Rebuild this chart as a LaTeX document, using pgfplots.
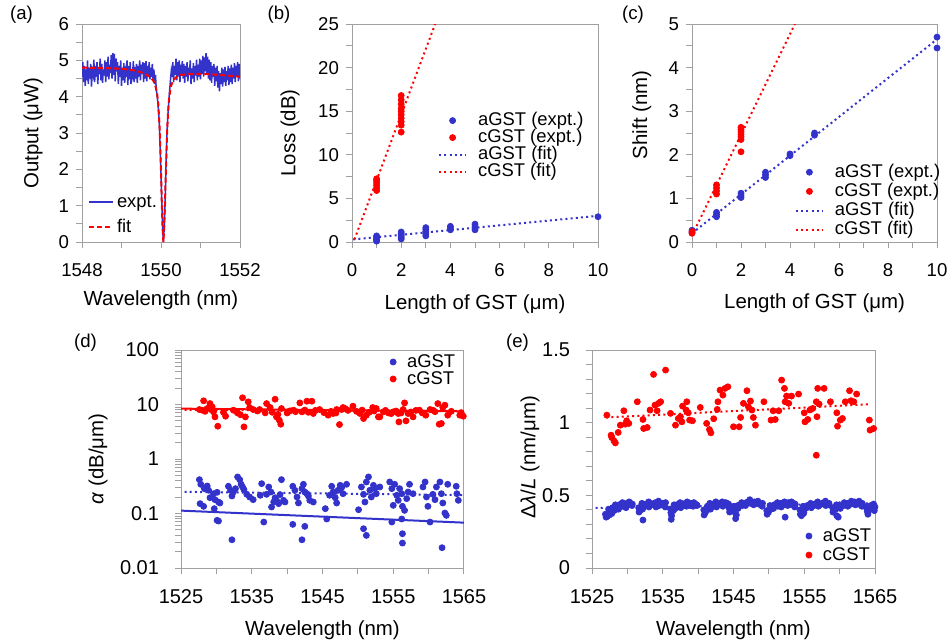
\documentclass[border=0pt]{standalone}
\usepackage{pgfplots}
\pgfplotsset{compat=1.18}
\usepackage{fontspec}
\setmainfont{Liberation Sans}
\definecolor{myblue}{RGB}{51,51,204}
\definecolor{myred}{RGB}{255,0,0}
\definecolor{framegray}{RGB}{160,160,160}
\pgfplotsset{
 panel/.style={
  scale only axis, anchor=south west,
  axis line style={framegray, line width=0.5pt},
  tick style={framegray, line width=0.5pt},
  tick align=outside, tick pos=left,
  major tick length=3pt, minor tick length=3pt,
  tick label style={font=\fontsize{9.3}{10}\selectfont, text=black},
  xticklabel style={yshift=-4.3pt},
  label style={font=\fontsize{10.2}{11}\selectfont},
  /pgf/number format/assume math mode=true,
  /pgf/number format/set thousands separator={},
  legend cell align=left,
  legend style={draw=none, fill=none, font=\fontsize{9.2}{10}\selectfont, inner sep=0pt, outer sep=0pt,
    nodes={inner sep=0pt, text height=6.8pt, text depth=1.7pt},
    /tikz/every odd column/.append style={column sep=5.5pt}},
 },
 bdot/.style={only marks, mark=*, mark size=1.5pt, color=myblue},
 rdot/.style={only marks, mark=*, mark size=1.5pt, color=myred},
 bfit/.style={myblue, line width=1pt, dash pattern=on 1pt off 1.6pt, no marks},
 rfit/.style={myred, line width=1pt, dash pattern=on 1pt off 1.6pt, no marks},
 wideleg/.style={legend image code/.code={\draw[mark repeat=2,mark phase=2,##1] plot coordinates {(0pt,0pt)(6.75pt,0pt)(13.5pt,0pt)};}},
 dotleg/.style={legend image code/.code={\draw[##1] plot coordinates {(1.5pt,0pt)};}},
}
\begin{document}
\begin{tikzpicture}
\path[use as bounding box] (0,0) rectangle (475.5pt,-319.5pt);
% ---------------- (a)
\begin{axis}[panel, at={(41pt,-121pt)}, width=79pt, height=109pt,
  xmin=1548, xmax=1552, ymin=0, ymax=6,
  xtick={1548,1550,1552}, minor x tick num=1,
  ytick={0,1,2,3,4,5,6}, minor y tick num=1,
  xlabel={Wavelength (nm)}, ylabel={Output (μW)},
  xlabel style={at={(axis description cs:0.5,-0.266)}, anchor=center},
  ylabel style={at={(axis description cs:-0.31,0.5)}, anchor=center},
  legend image code/.code={\draw[#1] plot coordinates {(0pt,0pt)(12pt,0pt)};},
  legend style={at={(0.038,0.126)}, anchor=west, row sep=4pt,
    /tikz/every odd column/.append style={column sep=1.5pt}},
  ]
\addplot[myblue, line width=0.75pt] coordinates {
(1548.00,4.55)(1548.02,4.95)(1548.04,4.40)(1548.06,4.85)(1548.08,4.30)(1548.10,4.75)(1548.12,4.45)(1548.14,5.00)(1548.16,4.35)(1548.18,4.80)
(1548.20,4.50)(1548.22,4.90)(1548.24,4.28)(1548.26,4.70)(1548.28,4.60)(1548.30,5.02)(1548.32,4.40)(1548.34,4.85)(1548.36,4.55)(1548.38,4.95)
(1548.40,4.35)(1548.42,4.80)(1548.44,4.62)(1548.46,5.05)(1548.48,4.45)(1548.50,4.90)(1548.52,4.38)(1548.54,4.75)(1548.56,4.58)(1548.58,5.00)
(1548.60,4.40)(1548.62,4.95)(1548.64,4.55)(1548.66,5.10)(1548.68,4.48)(1548.70,4.88)(1548.72,4.65)(1548.74,5.15)(1548.76,4.50)(1548.78,5.20)
(1548.80,4.60)(1548.82,5.18)(1548.84,4.42)(1548.86,5.05)(1548.88,4.70)(1548.90,4.95)(1548.92,4.35)(1548.94,4.85)(1548.96,4.55)(1548.98,5.00)
(1549.00,4.30)(1549.02,4.80)(1549.04,4.45)(1549.06,4.92)(1549.08,4.38)(1549.10,4.70)(1549.12,4.55)(1549.14,5.00)(1549.16,4.32)(1549.18,4.85)
(1549.20,4.48)(1549.22,4.95)(1549.24,4.35)(1549.26,4.75)(1549.28,4.60)(1549.30,4.98)(1549.32,4.40)(1549.34,4.82)(1549.36,4.50)(1549.38,4.90)
(1549.40,4.38)(1549.42,4.85)(1549.44,4.55)(1549.46,5.00)(1549.48,4.45)(1549.50,4.88)(1549.52,4.62)(1549.54,4.95)(1549.56,4.40)(1549.58,4.92)
(1549.60,4.50)(1549.62,4.98)(1549.64,4.42)(1549.66,4.85)(1549.68,4.60)(1549.70,4.95)(1549.72,4.48)(1549.74,4.80)(1549.76,4.55)(1549.78,4.90)
(1549.80,4.45)(1549.82,4.75)(1549.84,4.35)(1549.86,4.60)(1549.88,4.20)
(1549.90,4.05)(1549.92,3.85)(1549.94,3.55)(1549.96,3.20)(1549.98,2.60)(1550.00,1.90)(1550.02,1.10)(1550.04,0.40)(1550.06,0.00)
(1550.08,0.35)(1550.10,1.00)(1550.12,1.80)(1550.14,2.60)(1550.16,3.20)(1550.18,3.60)(1550.20,3.90)(1550.22,4.20)
(1550.24,4.45)(1550.26,4.70)(1550.28,4.55)(1550.30,4.95)(1550.32,4.40)(1550.34,4.85)(1550.36,4.60)(1550.38,5.05)
(1550.40,4.45)(1550.42,4.95)(1550.44,4.55)(1550.46,5.00)(1550.48,4.40)(1550.50,4.88)(1550.52,4.62)(1550.54,4.98)(1550.56,4.50)(1550.58,4.90)
(1550.60,4.38)(1550.62,4.85)(1550.64,4.55)(1550.66,4.95)(1550.68,4.42)(1550.70,4.80)(1550.72,4.60)(1550.74,5.00)(1550.76,4.35)(1550.78,4.78)
(1550.80,4.50)(1550.82,4.92)(1550.84,4.40)(1550.86,4.85)(1550.88,4.58)(1550.90,5.02)(1550.92,4.45)(1550.94,4.88)(1550.96,4.55)(1550.98,5.05)
(1551.00,4.48)(1551.02,5.00)(1551.04,4.62)(1551.06,5.12)(1551.08,4.55)(1551.10,5.08)(1551.12,4.70)(1551.14,5.20)(1551.16,4.60)(1551.18,5.10)
(1551.20,4.50)(1551.22,5.02)(1551.24,4.45)(1551.26,4.95)(1551.28,4.38)(1551.30,4.85)(1551.32,4.55)(1551.34,4.90)(1551.36,4.30)(1551.38,4.80)
(1551.40,4.42)(1551.42,4.85)(1551.44,4.25)(1551.46,4.70)(1551.48,4.15)(1551.50,4.65)(1551.52,4.35)(1551.54,4.80)(1551.56,4.28)(1551.58,4.75)
(1551.60,4.40)(1551.62,4.82)(1551.64,4.30)(1551.66,4.70)(1551.68,4.45)(1551.70,4.85)(1551.72,4.32)(1551.74,4.78)(1551.76,4.40)(1551.78,4.88)
(1551.80,4.35)(1551.82,4.80)(1551.84,4.50)(1551.86,4.92)(1551.88,4.40)(1551.90,4.85)(1551.92,4.55)(1551.94,4.95)(1551.96,4.42)(1551.98,4.90)
(1552.00,4.50)};
\addlegendentry{expt.}
\addplot[myred, line width=1pt, dash pattern=on 2.5pt off 1.5pt] coordinates {
(1548.0,4.80)(1548.5,4.79)(1549.0,4.77)(1549.3,4.73)(1549.5,4.67)(1549.6,4.62)(1549.7,4.56)(1549.8,4.45)(1549.85,4.33)(1549.9,4.10)
(1549.93,3.82)(1549.96,3.25)(1549.98,2.65)(1550.00,1.90)(1550.02,1.10)(1550.04,0.40)(1550.06,0.00)(1550.08,0.35)(1550.10,1.00)
(1550.12,1.80)(1550.14,2.55)(1550.16,3.15)(1550.18,3.60)(1550.21,4.00)(1550.25,4.28)(1550.3,4.43)(1550.4,4.55)(1550.5,4.60)
(1550.7,4.62)(1551.0,4.63)(1551.5,4.60)(1552.0,4.55)};
\addlegendentry{fit}
\end{axis}
% ---------------- (b)
\begin{axis}[panel, wideleg, at={(176pt,-121pt)}, width=123pt, height=109pt,
  xmin=0, xmax=10, ymin=0, ymax=25,
  xtick={0,2,...,10}, minor x tick num=1,
  ytick={0,5,...,25}, minor y tick num=1,
  xlabel={Length of GST (μm)}, ylabel={Loss (dB)},
  xlabel style={at={(axis description cs:0.5,-0.285)}, anchor=center},
  ylabel style={at={(axis description cs:-0.252,0.5)}, anchor=center},
  legend style={at={(0.35,0.44)}, anchor=west, row sep=0pt},
  ]
\addplot[bdot] coordinates {(1,0.1)(1,0.25)(1,0.4)(1,0.55)(1,0.7)(2,0.35)(2,0.55)(2,0.75)(2,0.95)(2,1.15)
 (3,0.7)(3,0.95)(3,1.2)(3,1.45)(3,1.65)(4,1.4)(4,1.6)(4,1.8)(5,1.4)(5,1.6)(5,1.8)(5,2.05)(10,2.9)};
\addlegendentry{aGST (expt.)}
\addplot[rdot] coordinates {(1,5.9)(1,6.2)(1,6.5)(1,6.8)(1,7.05)(1,7.25)(2,12.6)(2,13.4)(2,13.8)(2,14.2)(2,14.6)
 (2,15.0)(2,15.3)(2,15.8)(2,16.3)(2,16.8)};
\addlegendentry{cGST (expt.)}
\addplot[bfit] coordinates {(0.05,0.3)(10,3.0)};
\addlegendentry{aGST (fit)}
\addplot[rfit] coordinates {(0.1,0.3)(3.38,25)};
\addlegendentry{cGST (fit)}
\end{axis}
% ---------------- (c)
\begin{axis}[panel, wideleg, at={(346pt,-121pt)}, width=122.5pt, height=109pt,
  xmin=0, xmax=10, ymin=0, ymax=5,
  xtick={0,2,...,10}, minor x tick num=1,
  ytick={0,1,...,5}, minor y tick num=1,
  xlabel={Length of GST (μm)}, ylabel={Shift (nm)},
  xlabel style={at={(axis description cs:0.5,-0.28)}, anchor=center},
  ylabel style={at={(axis description cs:-0.205,0.583)}, anchor=center},
  legend style={at={(0.42,0.188)}, anchor=west, row sep=1.1pt},
  ]
\addplot[bdot] coordinates {(0,0.22)(0,0.27)(1,0.58)(1,0.63)(1,0.68)(2,1.02)(2,1.07)(2,1.12)(3,1.48)(3,1.54)(3,1.6)
 (4,1.98)(4,2.02)(5,2.45)(5,2.5)(10,4.45)(10,4.7)};
\addlegendentry{aGST (expt.)}
\addplot[rdot] coordinates {(0,0.2)(0,0.24)(1,1.1)(1,1.17)(1,1.24)(1,1.31)(2,2.07)(2,2.35)(2,2.41)(2,2.47)(2,2.53)(2,2.58)(2,2.63)};
\addlegendentry{cGST (expt.)}
\addplot[bfit] coordinates {(0,0.2)(10,4.65)};
\addlegendentry{aGST (fit)}
\addplot[rfit] coordinates {(0,0.15)(4.2,5.0)};
\addlegendentry{cGST (fit)}
\end{axis}
% ---------------- (d)
\begin{axis}[panel, dotleg, at={(90.5pt,-284pt)}, width=141.5pt, height=109pt,
  ymode=log, xmin=1525, xmax=1565, ymin=0.01, ymax=100,
  xtick={1525,1535,...,1565}, minor x tick num=1,
  ytick={0.01,0.1,1,10,100}, yticklabels={0.01,0.1,1,10,100},
  tick label style={font=\fontsize{10}{11}\selectfont},
  yticklabel style={xshift=-4.5pt},
  xlabel={Wavelength (nm)}, ylabel={\textit{α} (dB/μm)},
  xlabel style={at={(axis description cs:0.5,-0.284)}, anchor=center},
  ylabel style={at={(axis description cs:-0.293,0.5)}, anchor=center},
  legend style={at={(0.739,0.906)}, anchor=west, row sep=0pt},
  ]
\addplot[bdot] coordinates {
(1527.6,0.418)(1527.8,0.3436)(1528.3,0.286)(1528.7,0.320)(1528.9,0.267)(1529.1,0.195)(1529.6,0.231)(1529.8,0.1796)(1530.1,0.245)(1530.3,0.1626)
(1530.5,0.156)(1527.7,0.1517)(1528.2,0.1355)(1529.7,0.1227)(1530.1,0.0749)(1530.3,0.0728)(1531.7,0.316)(1532.0,0.267)(1532.2,0.210)(1532.4,0.248)
(1532.7,0.286)(1533.0,0.469)(1533.3,0.418)(1533.5,0.3436)(1533.7,0.307)(1533.9,0.274)(1534.3,0.225)(1534.7,0.201)(1535.2,0.1796)(1532.2,0.0330)
(1536.2,0.216)(1536.4,0.353)(1536.7,0.0698)(1537.1,0.225)(1537.4,0.307)(1537.7,0.248)(1537.8,0.1316)(1538.1,0.1626)(1538.3,0.195)(1538.5,0.1746)
(1538.8,0.1517)(1539.0,0.222)(1539.2,0.418)(1539.5,0.1746)(1539.7,0.1626)(1540.8,0.316)(1541.1,0.267)(1541.4,0.201)(1541.6,0.156)(1542.1,0.286)
(1542.3,0.3436)(1542.5,0.248)(1542.8,0.231)(1543.0,0.210)(1543.2,0.1746)(1543.7,0.1626)(1540.8,0.0632)(1542.5,0.0581)(1542.1,0.0330)(1545.4,0.1227)
(1545.6,0.0793)(1546.0,0.216)(1546.3,0.316)(1546.5,0.248)(1546.8,0.195)(1547.0,0.156)(1547.2,0.267)(1547.5,0.329)(1547.7,0.298)(1547.9,0.231)
(1548.4,0.3436)(1550.1,0.1175)(1550.5,0.307)(1550.8,0.225)(1551.0,0.1626)(1551.2,0.379)(1551.5,0.469)(1551.7,0.267)(1551.9,0.201)(1552.2,0.329)
(1552.4,0.286)(1552.6,0.231)(1553.1,0.307)(1550.8,0.0526)(1551.2,0.0397)(1554.5,0.379)(1554.8,0.286)(1555.0,0.1413)(1555.2,0.3436)(1555.5,0.216)
(1555.7,0.1746)(1555.9,0.286)(1556.2,0.231)(1556.3,0.1355)(1556.6,0.1143)(1556.9,0.1875)(1557.1,0.248)(1557.3,0.3436)(1557.8,0.231)(1554.8,0.0698)
(1556.2,0.0793)(1556.3,0.0426)(1556.3,0.0287)(1559.2,0.307)(1559.5,0.379)(1559.7,0.201)(1559.9,0.1355)(1560.2,0.0698)(1560.6,0.225)(1560.9,0.1796)
(1561.1,0.307)(1561.6,0.379)(1561.8,0.231)(1562.0,0.156)(1562.3,0.1021)(1562.5,0.0925)(1562.7,0.3436)(1561.9,0.0236)(1563.9,0.316)(1564.0,0.231)
(1564.2,0.1746)};
\addlegendentry{aGST}
\addplot[rdot] coordinates {
(1527.6,8.09)(1528.2,11.7)(1528.0,7.87)(1528.7,8.44)(1529.1,10.4)(1529.4,9.06)(1529.6,7.33)(1529.8,5.93)(1530.2,4.0)(1531.3,6.1)
(1532.4,7.87)(1532.9,7.33)(1533.7,13.3)(1533.9,3.89)(1534.1,5.93)(1534.5,11.2)(1534.7,8.81)(1535.2,8.09)(1536.1,8.09)(1536.9,7.03)
(1537.1,10.4)(1537.6,8.81)(1538.3,12.5)(1538.5,5.93)(1538.9,5.15)(1539.1,4.35)(1539.2,8.44)(1540.4,7.65)(1540.9,7.87)(1541.8,10.7)
(1542.1,7.33)(1542.8,11.5)(1543.5,11.5)(1543.7,6.84)(1544.6,8.09)(1545.8,6.37)(1546.5,6.84)(1547.0,8.09)(1547.4,4.29)(1547.7,8.09)
(1547.9,8.81)(1548.2,8.44)(1549.3,9.31)(1550.3,6.84)(1550.8,5.53)(1551.2,6.37)(1552.1,8.81)(1552.6,8.44)(1552.9,5.93)(1553.1,5.93)
(1553.6,7.33)(1554.3,7.03)(1555.0,7.33)(1555.7,6.84)(1555.8,4.8)(1556.4,8.09)(1556.6,10.7)(1556.8,5.01)(1557.1,6.84)(1557.8,5.93)
(1558.7,7.87)(1559.6,6.37)(1560.2,8.09)(1560.6,7.87)(1561.3,10.4)(1561.5,4.35)(1561.8,4.48)(1562.0,8.81)(1562.3,9.72)(1562.7,6.37)
(1564.4,6.37)(1564.9,6.1)
(1528.4,7.5)(1529.3,8.0)(1531.0,7.2)(1533.0,7.0)(1533.4,6.5)(1535.8,7.6)(1537.9,7.2)(1538.7,6.6)(1540.0,7.0)(1541.2,7.4)
(1542.5,7.9)(1543.0,7.2)(1544.0,7.8)(1545.2,7.1)(1546.2,7.5)(1546.9,7.0)(1548.6,7.8)(1549.8,7.5)(1550.6,7.9)(1551.6,7.2)
(1552.3,7.6)(1553.9,7.8)(1554.7,6.8)(1555.4,7.6)(1556.1,7.0)(1557.5,7.3)(1558.2,7.8)(1559.1,7.0)(1560.9,7.4)(1563.2,7.5)(1564.6,7.1)};
\addlegendentry{cGST}
\addplot[bfit, forget plot] coordinates {(1525.5,0.25)(1565,0.218)};
\addplot[rfit, forget plot] coordinates {(1525.5,8.0)(1565,7.6)};
\addplot[myblue, line width=1pt, forget plot] coordinates {(1525,0.113)(1565,0.068)};
\addplot[myred, line width=1pt, forget plot] coordinates {(1525,8.4)(1565,7.5)};
\end{axis}
% ---------------- (e)
\begin{axis}[panel, dotleg, at={(296pt,-284pt)}, width=141.5pt, height=109pt,
  xmin=1525, xmax=1565, ymin=0, ymax=1.5,
  xtick={1525,1535,...,1565}, minor x tick num=1,
  ytick={0,0.5,1,1.5}, minor y tick num=4,
  tick label style={font=\fontsize{10}{11}\selectfont},
  yticklabel style={xshift=-4.5pt},
  xlabel={Wavelength (nm)}, ylabel={Δ\textit{λ}/\textit{L} (nm/μm)},
  xlabel style={at={(axis description cs:0.5,-0.284)}, anchor=center},
  ylabel style={at={(axis description cs:-0.219,0.507)}, anchor=center},
  legend style={at={(0.756,0.103)}, anchor=west, row sep=1pt},
  ]
\addplot[bdot] coordinates {
(1526.9,0.37)(1527.35,0.405)(1527.9,0.415)(1528.3,0.435)(1528.85,0.43)(1529.3,0.45)(1529.7,0.44)(1530.25,0.455)(1530.7,0.44)
(1527.0,0.35)(1527.45,0.365)(1527.8,0.375)(1528.25,0.40)(1528.75,0.405)(1529.35,0.425)(1529.8,0.415)(1530.15,0.435)(1530.65,0.43)
(1527.15,0.355)(1527.6,0.385)(1528.1,0.395)(1528.5,0.42)(1529.05,0.44)(1529.55,0.43)(1529.95,0.445)(1530.45,0.445)
(1531.6,0.415)(1532.05,0.445)(1532.6,0.44)(1533.0,0.455)(1533.55,0.44)(1533.95,0.45)(1534.4,0.46)(1534.95,0.445)(1535.4,0.45)
(1531.65,0.385)(1532.15,0.405)(1532.5,0.425)(1533.05,0.42)(1533.45,0.435)(1534.05,0.42)(1534.5,0.43)(1534.85,0.435)(1535.35,0.42)
(1531.85,0.40)(1532.3,0.43)(1532.2,0.33)(1532.8,0.44)(1533.25,0.445)(1533.75,0.435)(1534.2,0.445)(1534.7,0.44)(1535.15,0.445)
(1536.1,0.405)(1536.6,0.435)(1537.05,0.435)(1537.45,0.45)(1537.9,0.44)(1538.45,0.455)(1538.8,0.445)(1539.4,0.45)(1539.8,0.435)
(1536.15,0.38)(1536.5,0.395)(1536.95,0.42)(1537.55,0.415)(1538.0,0.43)(1538.35,0.425)(1538.9,0.43)(1539.3,0.425)(1539.85,0.43)
(1536.2,0.335)(1536.25,0.36)(1536.8,0.41)(1537.25,0.44)(1537.7,0.435)(1538.2,0.445)(1538.6,0.435)(1539.1,0.445)(1539.6,0.44)
(1540.8,0.40)(1541.3,0.425)(1541.65,0.445)(1542.15,0.44)(1542.5,0.455)(1543.05,0.44)(1543.4,0.455)(1543.9,0.45)(1544.3,0.44)
(1540.85,0.365)(1541.2,0.395)(1541.75,0.405)(1542.05,0.425)(1542.6,0.42)(1542.95,0.435)(1543.5,0.425)(1543.8,0.44)(1544.25,0.43)
(1541.0,0.38)(1541.5,0.42)(1541.9,0.435)(1542.35,0.445)(1542.8,0.435)(1543.2,0.445)(1543.65,0.44)(1544.1,0.445)
(1544.4,0.41)(1545.05,0.425)(1545.6,0.43)(1546.15,0.45)(1546.8,0.45)(1547.3,0.47)(1547.95,0.455)(1548.45,0.46)(1549.1,0.445)
(1544.45,0.385)(1544.95,0.405)(1545.65,0.41)(1546.25,0.43)(1546.7,0.43)(1547.4,0.445)(1547.85,0.435)(1548.55,0.44)(1549.05,0.425)
(1545.3,0.34)(1545.4,0.365)(1545.25,0.38)(1545.9,0.435)(1546.5,0.44)(1547.05,0.455)(1547.6,0.445)(1548.2,0.45)(1548.8,0.44)
(1549.7,0.395)(1550.15,0.43)(1550.75,0.435)(1551.2,0.45)(1551.65,0.445)(1552.2,0.455)(1552.75,0.45)(1553.2,0.455)(1553.7,0.44)
(1549.75,0.37)(1550.25,0.405)(1550.65,0.41)(1551.25,0.425)(1551.75,0.42)(1552.15,0.435)(1552.65,0.43)(1553.25,0.435)(1553.65,0.42)
(1549.95,0.385)(1550.45,0.42)(1550.95,0.435)(1551.45,0.435)(1551.95,0.445)(1552.3,0.35)(1552.45,0.445)(1552.95,0.44)(1553.45,0.445)
(1554.4,0.40)(1554.85,0.425)(1555.45,0.43)(1555.9,0.445)(1556.5,0.44)(1556.9,0.455)(1557.55,0.445)(1558.0,0.46)(1558.5,0.445)
(1554.45,0.37)(1554.95,0.385)(1555.35,0.415)(1556.0,0.415)(1556.4,0.43)(1557.0,0.425)(1557.45,0.44)(1558.05,0.43)(1558.45,0.435)
(1554.6,0.36)(1554.9,0.375)(1555.15,0.42)(1555.7,0.435)(1556.2,0.43)(1556.7,0.445)(1557.2,0.435)(1557.75,0.45)(1558.25,0.44)
(1559.0,0.415)(1559.55,0.435)(1560.0,0.435)(1560.65,0.45)(1561.05,0.445)(1561.65,0.46)(1562.1,0.455)(1562.75,0.46)(1563.2,0.445)
(1559.05,0.385)(1559.45,0.405)(1560.1,0.41)(1560.55,0.43)(1561.15,0.425)(1561.55,0.44)(1562.2,0.435)(1562.65,0.44)(1563.15,0.425)
(1559.6,0.36)(1559.8,0.35)(1559.3,0.41)(1559.8,0.425)(1560.3,0.43)(1560.85,0.44)(1561.35,0.435)(1561.9,0.45)(1562.45,0.44)(1562.95,0.445)
(1563.7,0.42)(1563.9,0.39)(1564.0,0.37)(1564.2,0.40)(1564.4,0.43)(1564.6,0.41)(1564.8,0.44)(1565.0,0.42)(1564.9,0.395)};
\addlegendentry{aGST}
\addplot[rdot] coordinates {
(1527.1,1.052)(1527.7,0.914)(1527.8,0.898)(1528.1,0.875)(1528.3,0.861)(1528.7,0.933)(1529.0,0.983)(1529.5,1.082)(1529.7,0.99)(1529.9,1.013)
(1530.2,0.995)(1531.4,1.144)(1532.2,1.022)(1532.3,0.96)(1532.8,0.967)(1533.2,1.087)(1533.7,1.332)(1533.9,1.121)(1534.2,1.082)(1534.4,1.133)
(1534.7,1.144)(1535.4,1.362)(1536.1,1.064)(1536.8,0.983)(1537.2,1.029)(1537.5,1.041)(1537.7,1.006)(1537.8,1.114)(1538.3,1.087)(1538.4,1.144)
(1538.6,1.068)(1538.8,1.018)(1539.2,1.013)(1540.3,1.105)(1541.2,0.995)(1541.6,0.953)(1541.8,0.930)(1542.2,1.027)(1542.7,1.091)(1542.8,1.144)
(1543.1,1.224)(1543.5,1.19)(1543.8,1.236)(1544.2,1.247)(1545.0,0.972)(1545.8,0.972)(1546.0,1.036)(1546.4,1.133)(1546.9,1.22)(1547.1,1.11)
(1547.4,1.149)(1547.6,1.087)(1547.8,1.036)(1548.1,0.983)(1549.3,1.144)(1550.3,1.018)(1550.6,1.082)(1550.9,1.022)(1551.4,1.082)(1551.8,1.293)
(1552.2,1.236)(1552.3,1.144)(1552.5,1.183)(1552.8,1.133)(1553.2,1.183)(1554.2,1.197)(1555.0,1.068)(1555.1,1.006)(1555.5,1.022)(1555.8,1.087)
(1556.2,1.098)(1556.7,1.144)(1556.7,0.776)(1556.8,1.041)(1556.9,1.236)(1557.1,1.128)(1557.8,1.236)(1558.7,1.144)(1559.6,1.068)(1559.7,0.976)
(1560.1,1.018)(1560.4,1.029)(1560.8,1.144)(1561.4,1.22)(1561.6,1.151)(1562.0,1.144)(1562.4,1.197)(1564.2,1.018)(1564.3,0.949)(1564.8,0.96)};
\addlegendentry{cGST}
\addplot[bfit, forget plot] coordinates {(1525.5,0.413)(1565,0.445)};
\addplot[rfit, forget plot] coordinates {(1527,1.036)(1564,1.126)};
\end{axis}
% panel labels
\node[font=\fontsize{9.3}{10}\selectfont] at (10.75pt,-7.5pt) {(a)};
\node[font=\fontsize{9.3}{10}\selectfont] at (139.5pt,-7.5pt) {(b)};
\node[font=\fontsize{9.3}{10}\selectfont] at (316.5pt,-7.5pt) {(c)};
\node[font=\fontsize{9.3}{10}\selectfont] at (42.75pt,-171.5pt) {(d)};
\node[font=\fontsize{9.3}{10}\selectfont] at (258.75pt,-171.5pt) {(e)};
\end{tikzpicture}
\end{document}
